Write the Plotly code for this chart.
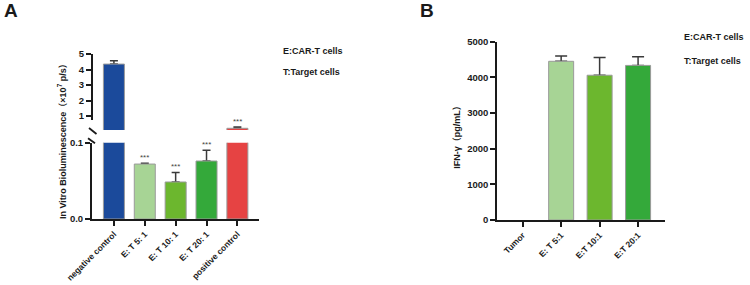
import plotly.graph_objects as go

# ---------------- data ----------------
cats_a = ["negative control", "E: T 5: 1", "E: T 10: 1", "E: T 20: 1", "positive control"]
vals_a = [4.35, 0.072, 0.0485, 0.076, 0.21]
err_a = [0.22, 0.001, 0.0125, 0.014, 0.08]
sig_a = ["", "***", "***", "***", "***"]
colors_a = ["#1b4a9b", "#a7d495", "#6cb72e", "#34a93a", "#e64343"]

cats_b = ["Tumor", "E: T 5:1", "E:T 10:1", "E:T 20:1"]
vals_b = [0, 4450, 4060, 4335]
err_b = [0, 150, 500, 240]
colors_b = ["#ffffff", "#a7d495", "#6cb72e", "#34a93a"]

top_ticks_a = [1, 2, 3, 4, 5]
bot_ticks_a = [0, 0.1]
bot_ticktext_a = ["0.0", "0.1"]
ticks_b = [0, 1000, 2000, 3000, 4000, 5000]

FONT = "Liberation Sans, Arial, Noto Sans CJK SC, sans-serif"
INK = "#1a1a1a"
W, H = 750, 285
BREAK_LO = 0.1   # lower limit of the upper segment (panel A)


def py(p):  # pixel row -> paper fraction
    return 1 - p / H


def px(p):
    return p / W


fig = go.Figure()

xa = list(range(len(cats_a)))
xb = list(range(len(cats_b)))

segments = {
    "y": vals_a,
    "y2": [v if v > BREAK_LO else None for v in vals_a],
}
for yax, vals in segments.items():
    fig.add_trace(go.Bar(
        x=xa, y=vals, xaxis="x", yaxis=yax, width=0.68,
        marker=dict(color="rgba(0,0,0,0)", line=dict(width=0)),
        error_y=dict(type="data", symmetric=False, array=err_a,
                     arrayminus=[0] * len(err_a), color="#3a3a3a",
                     thickness=1.5, width=4),
        showlegend=False, hoverinfo="skip"))
    fig.add_trace(go.Bar(
        x=xa, y=vals, xaxis="x", yaxis=yax, width=0.68,
        marker=dict(color=colors_a, line=dict(color="#9a9a9a", width=1)),
        showlegend=False))

fig.add_trace(go.Bar(
    x=xb, y=[v if e > 0 else None for v, e in zip(vals_b, err_b)],
    xaxis="x2", yaxis="y3", width=0.65,
    marker=dict(color="rgba(0,0,0,0)", line=dict(width=0)),
    error_y=dict(type="data", symmetric=False, array=err_b,
                 arrayminus=[0] * len(err_b), color="#3a3a3a",
                 thickness=1.5, width=6),
    showlegend=False, hoverinfo="skip"))
fig.add_trace(go.Bar(
    x=xb, y=vals_b, xaxis="x2", yaxis="y3", width=0.65,
    marker=dict(color=colors_b,
                line=dict(color="#9a9a9a", width=[0 if v == 0 else 1 for v in vals_b])),
    showlegend=False))

ytickfont = dict(family=FONT, size=9.5, color=INK, weight=700)
xtickfont = dict(family=FONT, size=8.5, color=INK, weight=700)
axis_common = dict(showline=True, linecolor=INK, linewidth=2, ticks="outside",
                   ticklen=5, tickwidth=1.6, tickcolor=INK, showgrid=False,
                   zeroline=False, fixedrange=True, automargin=False)

fig.update_layout(
    width=W, height=H,
    margin=dict(l=0, r=0, t=0, b=0, pad=0, autoexpand=False),
    paper_bgcolor="white", plot_bgcolor="white", barmode="overlay",
    xaxis=dict(domain=[px(92), px(259)], anchor="y", range=[-0.71, 4.7],
               tickvals=xa, ticktext=cats_a, tickangle=-45, tickfont=xtickfont,
               **axis_common),
    yaxis=dict(domain=[py(219), py(142.7)], anchor="x", range=[0, 0.1],
               tickvals=bot_ticks_a, ticktext=bot_ticktext_a, tickfont=ytickfont,
               **axis_common),
    yaxis2=dict(domain=[py(130), py(54)], anchor="x", range=[BREAK_LO, 5],
                tickvals=top_ticks_a, tickfont=ytickfont,
                **{**axis_common, "showline": False}),
    xaxis2=dict(domain=[px(497.3), px(665)], anchor="y3", range=[-0.66, 3.7],
                tickvals=xb, ticktext=cats_b, tickangle=-45, tickfont=xtickfont,
                **axis_common),
    yaxis3=dict(domain=[py(220), py(41.7)], anchor="x2", range=[0, 5000],
                tickvals=ticks_b, tickfont=ytickfont, **axis_common),
)

# top-segment axis line and break marks
shapes = [
    dict(type="line", xref="x domain", yref="y2 domain", x0=0, x1=0,
         y0=(130 - 120) / 76, y1=1, line=dict(color=INK, width=2)),
    dict(type="line", xref="x domain", yref="y2 domain", xsizemode="pixel",
         ysizemode="pixel", xanchor=0, yanchor=0, x0=-3, x1=4.5, y0=2, y1=-4,
         line=dict(color=INK, width=1.8)),
    dict(type="line", xref="x domain", yref="y domain", xsizemode="pixel",
         ysizemode="pixel", xanchor=0, yanchor=1, x0=-4, x1=3, y0=4.5, y1=-0.5,
         line=dict(color=INK, width=1.8)),
]
fig.update_layout(shapes=shapes)

ann = []
for i, (v, e, s) in enumerate(zip(vals_a, err_a, sig_a)):
    if not s:
        continue
    top = v + e
    yref = "y" if top <= BREAK_LO else "y2"
    ann.append(dict(x=i, y=top, xref="x", yref=yref, text=s, showarrow=False,
                    yanchor="bottom", yshift=-1,
                    font=dict(family=FONT, size=8, color="#444444")))

label_font = dict(family=FONT, size=9, color=INK, weight=700)
ann += [
    dict(x=px(2), y=py(10), xref="paper", yref="paper", text="A", showarrow=False,
         xanchor="left", yanchor="middle",
         font=dict(family=FONT, size=19, color=INK, weight=700)),
    dict(x=px(418), y=py(10), xref="paper", yref="paper", text="B", showarrow=False,
         xanchor="left", yanchor="middle",
         font=dict(family=FONT, size=19, color=INK, weight=700)),
    dict(x=px(62), y=py(139), xref="paper", yref="paper", textangle=-90,
         text="In Vitro Bioluminescence（×10<sup>7</sup> p/s）", showarrow=False,
         xanchor="center", yanchor="middle", font=label_font),
    dict(x=px(456.7), y=py(135), xref="paper", yref="paper", textangle=-90,
         text="IFN-γ（pg/mL）", showarrow=False,
         xanchor="center", yanchor="middle", font=label_font),
    dict(x=px(281), y=py(50.7), xref="paper", yref="paper", text="E:CAR-T cells",
         showarrow=False, xanchor="left", yanchor="middle", font=label_font),
    dict(x=px(281), y=py(72.3), xref="paper", yref="paper", text="T:Target cells",
         showarrow=False, xanchor="left", yanchor="middle", font=label_font),
    dict(x=px(682), y=py(36.7), xref="paper", yref="paper", text="E:CAR-T cells",
         showarrow=False, xanchor="left", yanchor="middle", font=label_font),
    dict(x=px(682), y=py(61), xref="paper", yref="paper", text="T:Target cells",
         showarrow=False, xanchor="left", yanchor="middle", font=label_font),
]
fig.update_layout(annotations=ann)

fig.write_html("out.html")
